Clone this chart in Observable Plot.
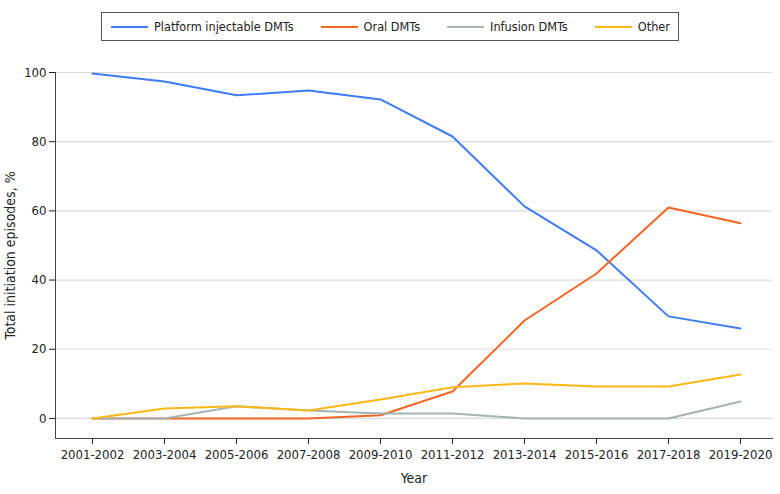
<!DOCTYPE html>
<html><head><meta charset="utf-8">
<script src="https://cdn.jsdelivr.net/npm/d3@7"></script>
<script src="https://cdn.jsdelivr.net/npm/@observablehq/plot@0.6"></script>
<style>
body{margin:0;background:#fff;font-family:"DejaVu Sans Condensed","DejaVu Sans",sans-serif;}
#legend{height:50px;position:relative;}
#legend .box{position:absolute;left:101px;top:12px;width:578px;height:29px;box-sizing:border-box;border:1px solid #555;display:flex;align-items:center;justify-content:flex-start;gap:27px;padding-left:9px;font-size:12.6px;color:#222;}
#legend .item{display:flex;align-items:center;}
#legend .sw{display:inline-block;width:37px;height:2px;margin-right:6px;}
</style></head>
<body>
<div id="legend"><div class="box"></div></div>
<div id="chart"></div>
<script>
const years = ["2001-2002","2003-2004","2005-2006","2007-2008","2009-2010","2011-2012","2013-2014","2015-2016","2017-2018","2019-2020"];
const seriesNames = ["Platform injectable DMTs","Oral DMTs","Infusion DMTs","Other"];
const colors = ["#3f7cf4","#f46424","#a3b4b3","#fbb812"];
const platform = [99.7,97.4,93.4,94.8,92.2,81.5,61.3,48.6,29.5,26.0];
const oral = [0,0,0,0,0.9,7.8,28.3,41.9,61.0,56.4];
const infusion = [0,0,3.5,2.3,1.4,1.4,0,0,0,4.9];
const other = [0,2.9,3.5,2.3,5.5,9.0,10.1,9.2,9.2,12.7];
const yTicks = [0,20,40,60,80,100];

const allSeries = [platform, oral, infusion, other];
const data = [];
allSeries.forEach((vals, i) => vals.forEach((v, j) => data.push({year: years[j], value: v, series: seriesNames[i]})));

const box = document.querySelector("#legend .box");
seriesNames.forEach((n, i) => {
  const it = document.createElement("div"); it.className = "item";
  it.innerHTML = `<span class="sw" style="background:${colors[i]}"></span><span>${n}</span>`;
  box.appendChild(it);
});

const chart = Plot.plot({
  width: 780, height: 444,
  marginTop: 22, marginBottom: 56, marginLeft: 55, marginRight: 8,
  style: {fontFamily: '"DejaVu Sans Condensed","DejaVu Sans",sans-serif', fontSize: "13px", color: "#222"},
  x: {type: "point", domain: years, range: [87.5, 743.5], padding: 0},
  y: {domain: [-5.8, 100], nice: false},
  color: {domain: seriesNames, range: colors},
  marks: [
    Plot.ruleY(yTicks, {stroke: "#dcdcdc", strokeWidth: 1.2}),
    Plot.frame({anchor: "left", stroke: "#444"}),
    Plot.frame({anchor: "bottom", stroke: "#444"}),
    Plot.axisY({ticks: yTicks, tickSize: 6, tickPadding: 3, fontSize: 13, label: "Total initiation episodes, %", labelAnchor: "center", labelArrow: "none", labelOffset: 50}),
    Plot.axisX({tickSize: 6, tickPadding: 5, fontSize: 13, label: "Year", labelAnchor: "center", labelArrow: "none", labelOffset: 44}),
    Plot.line(data, {x: "year", y: "value", z: "series", stroke: "series", strokeWidth: 2})
  ]
});
chart.querySelectorAll('[aria-label="y-axis label"] text, [aria-label="x-axis label"] text').forEach(t => t.setAttribute("font-size", "14"));
document.getElementById("chart").appendChild(chart);
</script>
</body></html>
